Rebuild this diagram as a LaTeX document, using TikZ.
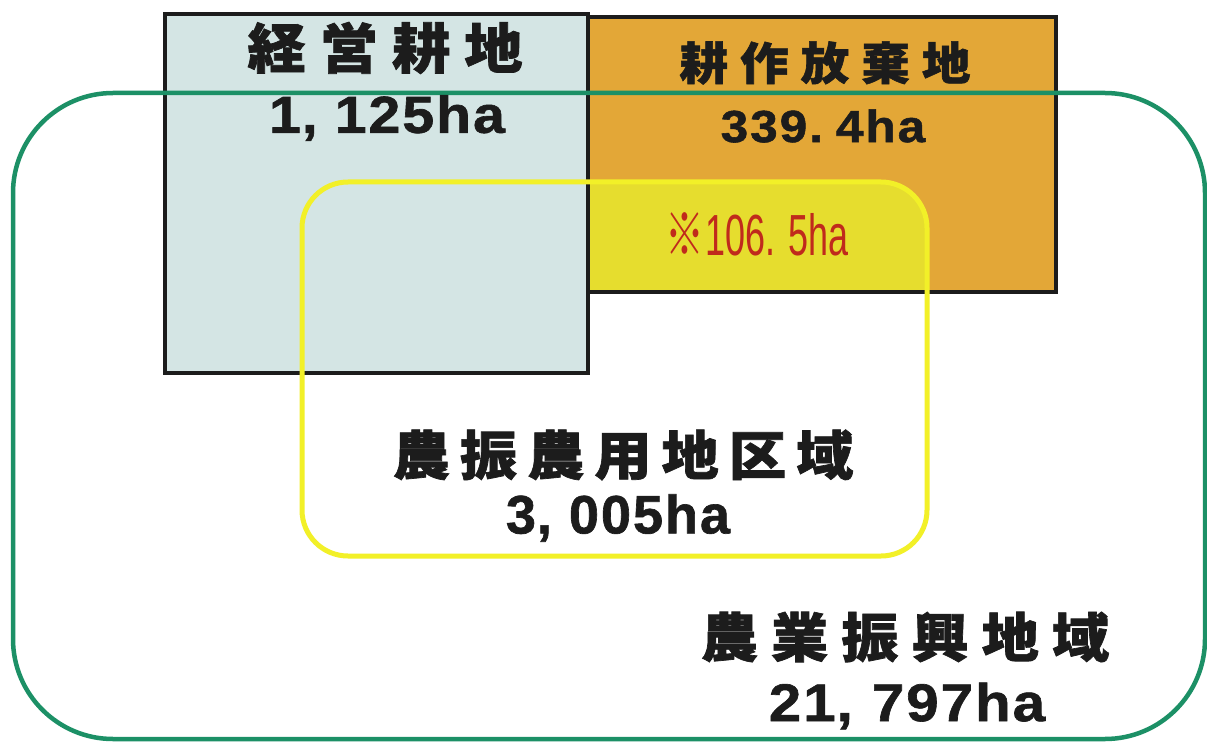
\documentclass[tikz,border=0pt]{standalone}
\usepackage{fontspec}
\usepackage{graphicx}
\newfontfamily\cjk[FakeStretch=1.08, BoldFeatures={FakeBold=1.3}]{Noto Sans CJK JP}
\newfontfamily\numf[FakeStretch=1.1, BoldFeatures={FakeBold=1.2}]{Liberation Sans}
\newfontfamily\numn[BoldFeatures={FakeBold=1.2}]{Liberation Sans}
\newfontfamily\numr{Liberation Sans}
\definecolor{boxblue}{HTML}{D4E5E4}
\definecolor{boxorange}{HTML}{E3A737}
\definecolor{ovlyellow}{HTML}{E6DD2E}
\definecolor{lineyellow}{HTML}{F2F028}
\definecolor{linegreen}{HTML}{1C9066}
\definecolor{txtred}{HTML}{C02A1C}
\definecolor{txtdark}{HTML}{1C1C1C}
\tikzset{
  boxedge/.style={draw=txtdark, line width=3.5pt},
  greenline/.style={draw=linegreen, line width=4.5pt, rounded corners=100pt},
  yellowline/.style={draw=lineyellow, line width=5pt, rounded corners=46pt},
  jlabel/.style={inner sep=0pt, text=txtdark},
  nlabel/.style={inner sep=0pt, text=txtdark}
}
\begin{document}
\begin{tikzpicture}[x=1pt,y=-1pt]
\useasboundingbox (0,0) rectangle (1207,743);
\fill[white] (0,0) rectangle (1207,743);
% boxes fill
\fill[boxblue] (165,14) rectangle (588,373);
\fill[boxorange] (588,17) rectangle (1056,292);
% yellow overlap inside orange box
\begin{scope}
  \clip (588,17) rectangle (1056,292);
  \fill[ovlyellow, rounded corners=46pt] (302,182) rectangle (927,556);
\end{scope}
% box borders
\draw[boxedge] (165,14) rectangle (588,373);
\draw[boxedge] (588,17) rectangle (1056,292);
% yellow region outline
\draw[yellowline] (302,182) rectangle (927,556);
% green region outline
\draw[greenline] (13,93) rectangle (1205,739);
% labels
\node[jlabel, font=\cjk\bfseries\fontsize{54}{60}\selectfont] (t1) at (385,48)
  {経\kern14pt営\kern14pt耕\kern14pt地};
\node[nlabel, font=\numf\bfseries\fontsize{52}{60}\selectfont] (n1) at (387,118)
  {1\kern1pt,\kern17pt1\kern2pt2\kern2pt5\kern2pt h\kern2pt a};
\node[jlabel, font=\cjk\bfseries\fontsize{45}{52}\selectfont] (t2) at (825,63)
  {耕\kern12pt作\kern12pt放\kern12pt棄\kern12pt地};
\node[nlabel, font=\numf\bfseries\fontsize{45}{52}\selectfont] (n2) at (823,126)
  {3\kern2pt3\kern2pt9\kern2pt.\kern13pt4\kern2pt h\kern2pt a};
\node[inner sep=0pt, text=txtred] (n3) at (757,234)
  {\scalebox{0.62}[1]{\fontsize{58}{64}\selectfont{\cjk ※}\kern2pt\numr 106.\kern22pt5ha}};
\node[jlabel, font=\cjk\bfseries\fontsize{53}{60}\selectfont] (t3) at (623,455)
  {農\kern10pt振\kern10pt農\kern10pt用\kern10pt地\kern10pt区\kern10pt域};
\node[nlabel, font=\numn\bfseries\fontsize{54}{60}\selectfont] (n4) at (618,518)
  {3\kern1pt,\kern17pt0\kern2pt0\kern2pt5\kern2pt h\kern2pt a};
\node[jlabel, font=\cjk\bfseries\fontsize{53}{60}\selectfont] (t4) at (905,637)
  {農\kern13pt業\kern13pt振\kern13pt興\kern13pt地\kern13pt域};
\node[nlabel, font=\numf\bfseries\fontsize{53}{60}\selectfont] (n5) at (907,706)
  {2\kern2pt1\kern1pt,\kern19pt7\kern2pt9\kern2pt7\kern2pt h\kern2pt a};
\end{tikzpicture}
\end{document}
